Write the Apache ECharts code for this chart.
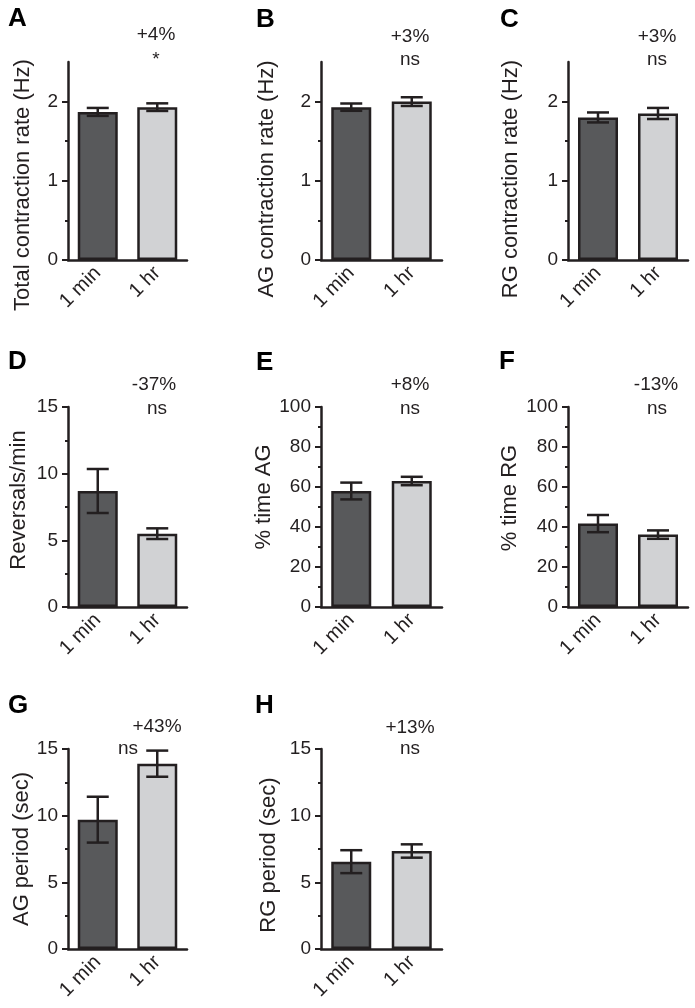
<!DOCTYPE html>
<html>
<head>
<meta charset="utf-8">
<script src="https://cdn.jsdelivr.net/npm/echarts@6/dist/echarts.min.js"></script>
<style>
  html, body { margin: 0; background: #fff; }
  #chart { width: 695px; height: 1008px; }
</style>
</head>
<body>
<div id="chart"></div>
<script>
// categories
const groups = ['1 min', '1 hr'];

// one entry per panel A..H
const letters = ['A', 'B', 'C', 'D', 'E', 'F', 'G', 'H'];
const yNames = [
  'Total contraction rate (Hz)',
  'AG contraction rate (Hz)',
  'RG contraction rate (Hz)',
  'Reversals/min',
  '% time AG',
  '% time RG',
  'AG period (sec)',
  'RG period (sec)',
];
const yMax = [2.5, 2.5, 2.5, 15, 100, 100, 15, 15];
const yStep = [1, 1, 1, 5, 20, 20, 5, 5];

// bar heights [1 min, 1 hr]
const means = [
  [1.87, 1.93],
  [1.93, 2.0],
  [1.80, 1.85],
  [8.7, 5.5],
  [58, 63],
  [41.7, 36.2],
  [9.7, 13.9],
  [6.55, 7.35],
];
// error bar half-lengths [1 min, 1 hr]
const errs = [
  [0.05, 0.048],
  [0.046, 0.055],
  [0.063, 0.07],
  [1.65, 0.4],
  [4.2, 2.1],
  [4.3, 2.1],
  [1.72, 0.98],
  [0.86, 0.5],
];
const changeText = ['+4%', '+3%', '+3%', '-37%', '+8%', '-13%', '+43%', '+13%'];
const sigText = ['*', 'ns', 'ns', 'ns', 'ns', 'ns', 'ns', 'ns'];

// layout (pixels)
const colLeft = [68, 321, 568];
const colWidth = [119, 121, 120];
const rowTop = [62, 407, 749];
const rowHeight = [198, 200, 200];
const nameGaps = [34, 43, 46, 38, 42, 47, 35, 41];
// how far each axis title sits below the axis middle
const nameShift = [24, 18, 18, -7, -10, -9, 0, 6];
const letterPos = [[8, 19], [256, 20], [500, 20], [8, 362], [256, 363], [499, 362], [8, 706], [255, 706]];
const changePos = [[156, 35], [410, 37], [657, 37], [154, 385], [410, 385], [656, 385], [157, 727], [410, 728]];
const sigPos = [[156, 60], [410, 60], [657, 60], [157, 409], [410, 409], [657, 409], [128, 749], [410, 749]];

const ink = '#231f20';
const barColors = ['#58595b', '#d1d2d4'];
const font = '"Liberation Sans", Arial, sans-serif';

const chart = echarts.init(document.getElementById('chart'));

const grid = [], xAxis = [], yAxis = [], series = [], graphic = [];

letters.forEach((letter, i) => {
  const row = Math.floor(i / 3), col = i % 3;
  grid.push({
    left: colLeft[col], top: rowTop[row],
    width: colWidth[col], height: rowHeight[row],
  });
  xAxis.push({
    type: 'category', gridIndex: i, data: groups,
    axisLine: { lineStyle: { color: ink, width: 2.5 } },
    axisTick: { alignWithLabel: true, length: 6, lineStyle: { color: ink, width: 2 } },
    axisLabel: { rotate: 45, margin: 10, fontSize: 20, color: ink, fontFamily: font },
  });
  const majors = [], minors = [];
  for (let v = 0; v <= yMax[i] + 1e-9; v += yStep[i]) majors.push(+v.toFixed(3));
  for (let v = yStep[i] / 2; v < yMax[i] - 1e-9; v += yStep[i]) minors.push(+v.toFixed(3));
  const s = nameShift[i];
  yAxis.push({
    type: 'value', gridIndex: i, position: 'left', min: 0, max: yMax[i], interval: yStep[i] / 2,
    name: yNames[i], nameLocation: 'middle', nameRotate: 90, nameGap: nameGaps[i],
    nameTextStyle: {
      fontSize: 22, color: ink, fontFamily: font,
      padding: [0, s > 0 ? 2 * s : 0, 0, s < 0 ? -2 * s : 0],
    },
    axisLine: { show: true, lineStyle: { color: ink, width: 2.5 } },
    axisTick: { show: true, customValues: majors, length: 6, lineStyle: { color: ink, width: 2 } },
    axisLabel: { customValues: majors, margin: 10, fontSize: 19, color: ink, fontFamily: font },
    splitLine: { show: false },
  });
  // minor ticks on a twin axis, same side
  yAxis.push({
    type: 'value', gridIndex: i, position: 'left', offset: 0,
    min: 0, max: yMax[i], interval: yStep[i] / 2,
    axisLine: { show: false },
    axisTick: { show: true, customValues: minors, length: 3, lineStyle: { color: ink, width: 2 } },
    axisLabel: { show: false },
    splitLine: { show: false },
  });

  series.push({
    type: 'bar', xAxisIndex: i, yAxisIndex: 2 * i, barWidth: 40,
    data: means[i].map((m, k) => ({
      value: m,
      itemStyle: { color: barColors[k], borderColor: ink, borderWidth: 2.5 },
    })),
    silent: true,
  });
  series.push({
    type: 'custom', xAxisIndex: i, yAxisIndex: 2 * i, z: 5,
    data: means[i].map((m, k) => [k, m - errs[i][k], m + errs[i][k]]),
    encode: { x: 0, y: [1, 2] },
    renderItem: (params, api) => {
      const x = api.value(0);
      const lo = api.coord([x, api.value(1)]);
      const hi = api.coord([x, api.value(2)]);
      const w = 11;
      const style = { stroke: ink, lineWidth: 2.5 };
      return {
        type: 'group',
        children: [
          { type: 'line', shape: { x1: lo[0], y1: lo[1], x2: hi[0], y2: hi[1] }, style },
          { type: 'line', shape: { x1: hi[0] - w, y1: hi[1], x2: hi[0] + w, y2: hi[1] }, style },
          { type: 'line', shape: { x1: lo[0] - w, y1: lo[1], x2: lo[0] + w, y2: lo[1] }, style },
        ],
      };
    },
    silent: true,
  });

  graphic.push({
    type: 'text', x: letterPos[i][0], y: letterPos[i][1],
    style: { text: letter, fontSize: 26, fontWeight: 'bold', fill: '#000', fontFamily: font, verticalAlign: 'middle' },
  });
  graphic.push({
    type: 'text', x: changePos[i][0], y: changePos[i][1],
    style: { text: changeText[i], fontSize: 19, fill: ink, fontFamily: font, align: 'center', verticalAlign: 'middle' },
  });
  graphic.push({
    type: 'text', x: sigPos[i][0], y: sigPos[i][1],
    style: { text: sigText[i], fontSize: 19, fill: ink, fontFamily: font, align: 'center', verticalAlign: 'middle' },
  });
});

chart.setOption({
  animation: false,
  backgroundColor: '#fff',
  grid, xAxis, yAxis, series, graphic,
});
</script>
</body>
</html>
